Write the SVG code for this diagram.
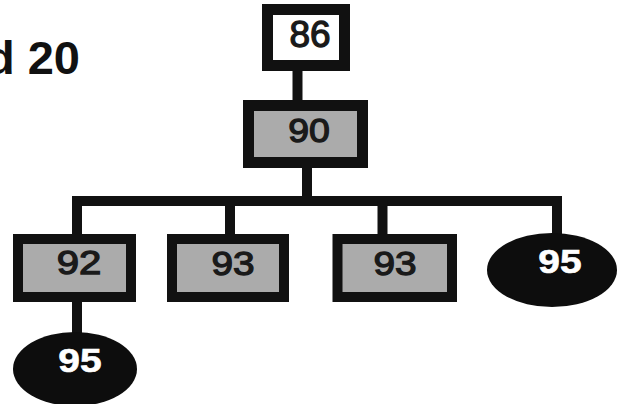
<svg xmlns="http://www.w3.org/2000/svg" width="626" height="404" viewBox="0 0 626 404">
  <style>
    .box { fill: #ababab; stroke: #111; stroke-width: 11; }
    .top { fill: #fff; stroke: #111; stroke-width: 11; }
    .oval { fill: #0d0d0d; }
    .wire { stroke: #111; stroke-width: 10; fill: none; stroke-linecap: butt; }
    .lbl { font-family: "Liberation Sans", Arial, sans-serif; font-size: 34px; fill: #1a1a1a; stroke: #1a1a1a; stroke-width: 1.3; text-anchor: middle; }
    .olbl { font-family: "Liberation Sans", Arial, sans-serif; font-size: 33px; font-weight: bold; fill: #fff; stroke: #fff; stroke-width: 0.6; text-anchor: middle; }
    .title { font-family: "Liberation Sans", Arial, sans-serif; font-size: 47px; font-weight: bold; fill: #111; text-anchor: end; }
  </style>
  <rect width="626" height="404" fill="#fff"/>

  <text class="title" x="80" y="74">d 20</text>

  <g id="connectors">
    <line class="wire" x1="297.5" y1="70" x2="297.5" y2="101"/>
    <line class="wire" x1="307" y1="167" x2="307" y2="202"/>
    <line class="wire" x1="72" y1="201" x2="562" y2="201"/>
    <line class="wire" x1="77" y1="196" x2="77" y2="235"/>
    <line class="wire" x1="230" y1="201" x2="230" y2="235"/>
    <line class="wire" x1="382.5" y1="201" x2="382.5" y2="235"/>
    <line class="wire" x1="557" y1="196" x2="557" y2="240"/>
    <line class="wire" x1="77" y1="301" x2="77" y2="336"/>
  </g>

  <g id="n86">
    <rect class="top" x="267.5" y="9.5" width="77" height="56"/>
    <text class="lbl" x="310" y="47" style="font-size:37px">86</text>
  </g>

  <g id="n90">
    <rect class="box" x="248.5" y="105.5" width="114" height="57"/>
    <text class="lbl" transform="translate(309,142) scale(1.1,1)">90</text>
  </g>

  <g id="n92">
    <rect class="box" x="18" y="239" width="113" height="58" style="stroke-width:10"/>
    <text class="lbl" transform="translate(79,274) scale(1.18,1)">92</text>
  </g>

  <g id="n93a">
    <rect class="box" x="172" y="239" width="112" height="58" style="stroke-width:10"/>
    <text class="lbl" transform="translate(233,275) scale(1.14,1)">93</text>
  </g>

  <g id="n93b">
    <rect class="box" x="337.5" y="239" width="114.5" height="58" style="stroke-width:10"/>
    <text class="lbl" transform="translate(395,275) scale(1.14,1)">93</text>
  </g>

  <g id="n95a">
    <ellipse class="oval" cx="552" cy="270" rx="65" ry="37"/>
    <text class="olbl" transform="translate(560,273) scale(1.18,1)">95</text>
  </g>

  <g id="n95b">
    <ellipse class="oval" cx="75" cy="369" rx="62" ry="37"/>
    <text class="olbl" transform="translate(80,372) scale(1.18,1)">95</text>
  </g>
</svg>
